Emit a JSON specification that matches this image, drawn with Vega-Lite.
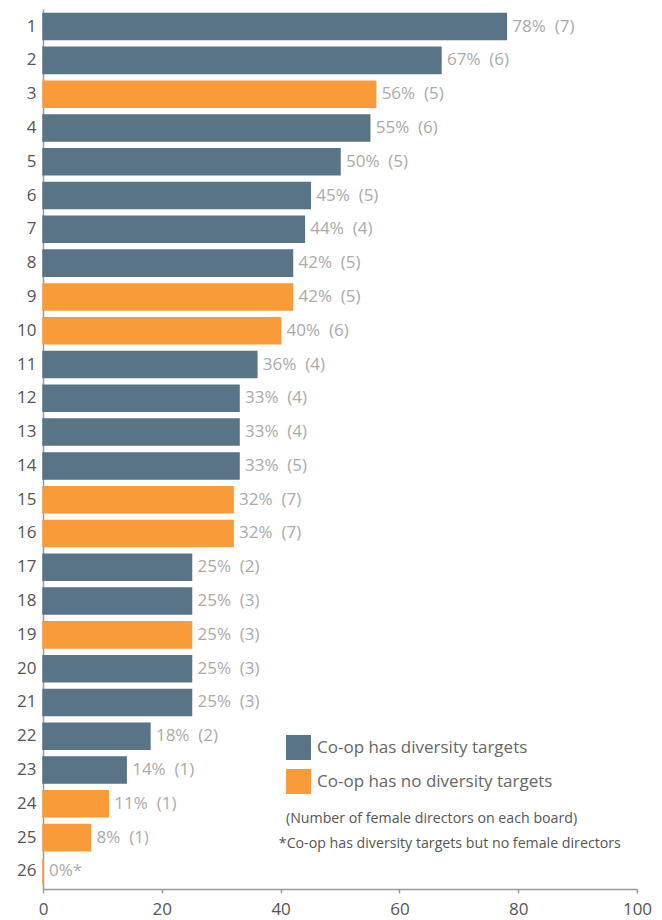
{
  "$schema": "https://vega.github.io/schema/vega-lite/v6.json",
  "width": 594,
  "height": 880,
  "autosize": {"type": "none"},
  "padding": {"left": 43, "top": 9, "right": 25, "bottom": 31},
  "background": "white",
  "config": {
    "view": {"stroke": null},
    "font": "Open Sans"
  },
  "data": {
    "values": [
      {"rank": "1", "pct": 78, "label": "78% \u00a0(7)", "group": "Co-op has diversity targets"},
      {"rank": "2", "pct": 67, "label": "67% \u00a0(6)", "group": "Co-op has diversity targets"},
      {"rank": "3", "pct": 56, "label": "56% \u00a0(5)", "group": "Co-op has no diversity targets"},
      {"rank": "4", "pct": 55, "label": "55% \u00a0(6)", "group": "Co-op has diversity targets"},
      {"rank": "5", "pct": 50, "label": "50% \u00a0(5)", "group": "Co-op has diversity targets"},
      {"rank": "6", "pct": 45, "label": "45% \u00a0(5)", "group": "Co-op has diversity targets"},
      {"rank": "7", "pct": 44, "label": "44% \u00a0(4)", "group": "Co-op has diversity targets"},
      {"rank": "8", "pct": 42, "label": "42% \u00a0(5)", "group": "Co-op has diversity targets"},
      {"rank": "9", "pct": 42, "label": "42% \u00a0(5)", "group": "Co-op has no diversity targets"},
      {"rank": "10", "pct": 40, "label": "40% \u00a0(6)", "group": "Co-op has no diversity targets"},
      {"rank": "11", "pct": 36, "label": "36% \u00a0(4)", "group": "Co-op has diversity targets"},
      {"rank": "12", "pct": 33, "label": "33% \u00a0(4)", "group": "Co-op has diversity targets"},
      {"rank": "13", "pct": 33, "label": "33% \u00a0(4)", "group": "Co-op has diversity targets"},
      {"rank": "14", "pct": 33, "label": "33% \u00a0(5)", "group": "Co-op has diversity targets"},
      {"rank": "15", "pct": 32, "label": "32% \u00a0(7)", "group": "Co-op has no diversity targets"},
      {"rank": "16", "pct": 32, "label": "32% \u00a0(7)", "group": "Co-op has no diversity targets"},
      {"rank": "17", "pct": 25, "label": "25% \u00a0(2)", "group": "Co-op has diversity targets"},
      {"rank": "18", "pct": 25, "label": "25% \u00a0(3)", "group": "Co-op has diversity targets"},
      {"rank": "19", "pct": 25, "label": "25% \u00a0(3)", "group": "Co-op has no diversity targets"},
      {"rank": "20", "pct": 25, "label": "25% \u00a0(3)", "group": "Co-op has diversity targets"},
      {"rank": "21", "pct": 25, "label": "25% \u00a0(3)", "group": "Co-op has diversity targets"},
      {"rank": "22", "pct": 18, "label": "18% \u00a0(2)", "group": "Co-op has diversity targets"},
      {"rank": "23", "pct": 14, "label": "14% \u00a0(1)", "group": "Co-op has diversity targets"},
      {"rank": "24", "pct": 11, "label": "11% \u00a0(1)", "group": "Co-op has no diversity targets"},
      {"rank": "25", "pct": 8, "label": "8% \u00a0(1)", "group": "Co-op has no diversity targets"},
      {"rank": "26", "pct": 0, "label": "0%*", "group": "Co-op has no diversity targets"}
    ]
  },
  "encoding": {
    "y": {
      "field": "rank",
      "type": "ordinal",
      "sort": null,
      "scale": {"paddingInner": 0.23, "paddingOuter": 0.135},
      "axis": {
        "title": null,
        "ticks": false,
        "domainColor": "#999999",
        "domainWidth": 1.5,
        "labelFontSize": 17,
        "labelColor": "#555555",
        "labelPadding": 7
      }
    }
  },
  "layer": [
    {
      "mark": {"type": "bar", "strokeWidth": 1.5},
      "encoding": {
        "x": {
          "field": "pct",
          "type": "quantitative",
          "scale": {"domain": [0, 100], "nice": false},
          "axis": {
            "title": null,
            "values": [0, 20, 40, 60, 80, 100],
            "grid": false,
            "domainColor": "#999999",
            "domainWidth": 1.5,
            "tickColor": "#999999",
            "tickSize": 4,
            "tickWidth": 1.5,
            "labelFontSize": 17,
            "labelColor": "#555555",
            "labelPadding": 8,
            "labelFlush": false
          }
        },
        "color": {
          "field": "group",
          "type": "nominal",
          "scale": {
            "domain": ["Co-op has diversity targets", "Co-op has no diversity targets"],
            "range": ["#587486", "#F99B38"]
          },
          "legend": {
            "title": null,
            "orient": "none",
            "legendX": 243,
            "legendY": 726,
            "padding": 0,
            "symbolType": "square",
            "symbolSize": 625,
            "symbolStrokeWidth": 0,
            "symbolOpacity": 1,
            "labelFontSize": 17,
            "labelColor": "#666666",
            "labelOffset": 6,
            "labelLimit": 0,
            "rowPadding": 9
          }
        },
        "stroke": {"field": "group", "type": "nominal", "scale": {"domain": ["Co-op has diversity targets", "Co-op has no diversity targets"], "range": ["#587486", "#F99B38"]}, "legend": null}
      }
    },
    {
      "mark": {"type": "text", "align": "left", "baseline": "middle", "dx": 6, "fontSize": 17, "fill": "#aaaaaa"},
      "encoding": {
        "x": {"field": "pct", "type": "quantitative"},
        "text": {"field": "label"}
      }
    },
    {
      "data": {"values": [{"note": "(Number of female directors on each board)"}]},
      "mark": {"type": "text", "align": "left", "baseline": "middle", "dy": 15, "fontSize": 14.2, "fill": "#555555"},
      "encoding": {
        "x": {"datum": 40.9},
        "y": {"datum": "24"},
        "text": {"field": "note"}
      }
    },
    {
      "data": {"values": [{"note": "*Co-op has diversity targets but no female directors"}]},
      "mark": {"type": "text", "align": "left", "baseline": "middle", "dy": 6, "fontSize": 14.2, "fill": "#555555"},
      "encoding": {
        "x": {"datum": 39.7},
        "y": {"datum": "25"},
        "text": {"field": "note"}
      }
    }
  ]
}
